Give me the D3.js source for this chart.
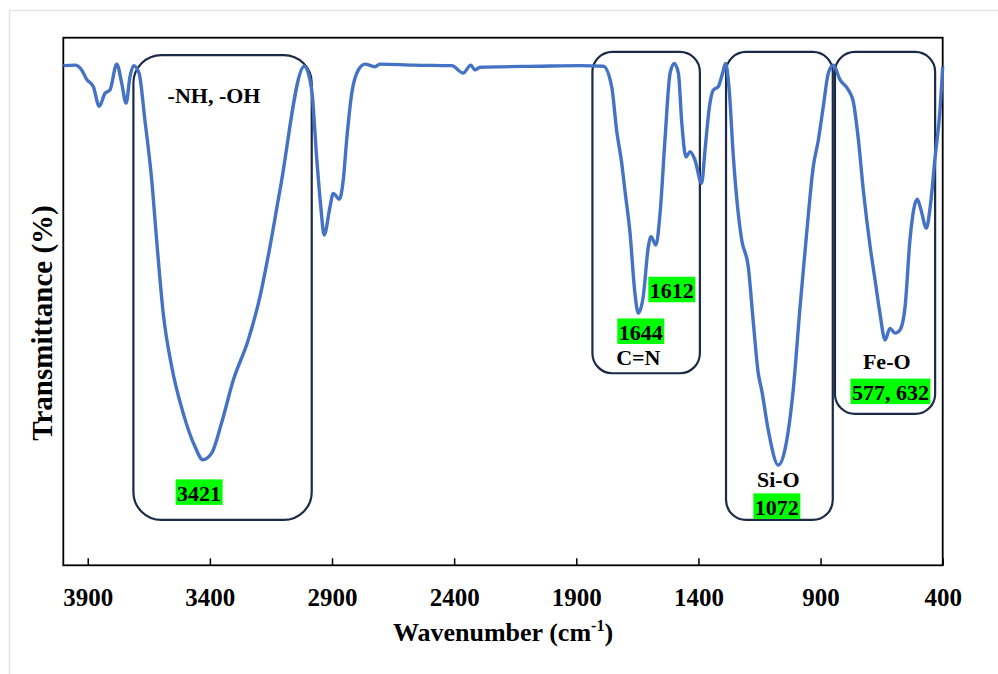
<!DOCTYPE html>
<html>
<head>
<meta charset="utf-8">
<script src="https://cdn.jsdelivr.net/npm/d3@7"></script>
<style>
body { margin: 0; background: #fff; }
text { font-family: "Liberation Serif", "Times New Roman", serif; font-weight: bold; fill: #000; }
</style>
</head>
<body>
<div id="chart-area"></div>
<script>
// widmo FTIR
const wavenumber = [4000, 3952, 3925, 3904, 3877, 3853, 3829, 3809, 3781, 3761, 3743, 3727, 3712, 3690, 3666,
  3638, 3618, 3591, 3556, 3509, 3461, 3429, 3392, 3352, 3304, 3243, 3195, 3154, 3113, 3013,
  2983, 2963, 2946, 2932, 2908, 2895, 2870, 2854, 2840, 2819, 2792, 2765, 2724, 2704, 2567,
  2410, 2363, 2332, 2315, 2294, 2049, 1885, 1789, 1755, 1735, 1714, 1701, 1680, 1660, 1646,
  1626, 1605, 1594, 1574, 1557, 1537, 1516, 1499, 1482, 1468, 1451, 1434, 1414, 1387, 1373,
  1355, 1339, 1319, 1301, 1289, 1274, 1257, 1237, 1223, 1196, 1175, 1155, 1141, 1114, 1073,
  1046, 1012, 984, 957, 930, 909, 889, 868, 848, 820, 786, 766, 745, 725, 697,
  677, 657, 636, 616, 595, 575, 554, 534, 504, 489, 467, 451, 431, 410, 400];
const transmittance = [94.7, 94.8, 93.9, 92.1, 90.7, 87.0, 89.5, 90.1, 95.0, 91.4, 87.6, 92.6, 94.7, 93.3, 84.4,
  73.0, 61.7, 47.8, 37.6, 28.8, 22.5, 20.0, 21.3, 27.0, 35.1, 42.7, 50.9, 60.4, 71.1, 94.6,
  90.1, 77.4, 68.0, 62.6, 68.0, 70.5, 69.4, 73.0, 80.6, 89.5, 93.9, 95.0, 94.5, 95.0, 94.8,
  94.7, 93.3, 94.8, 93.9, 94.4, 94.6, 94.7, 94.6, 90.7, 82.5, 76.2, 71.1, 63.0, 51.6, 47.8,
  50.9, 60.4, 62.3, 60.7, 66.7, 80.6, 93.3, 95.1, 93.3, 83.8, 77.4, 78.4, 76.8, 72.4, 78.7,
  86.9, 90.1, 90.7, 93.3, 95.1, 90.1, 77.4, 66.7, 61.7, 56.6, 45.9, 36.4, 33.2, 25.6, 19.0,
  21.9, 33.2, 49.0, 62.9, 75.5, 80.6, 86.9, 93.3, 94.8, 92.0, 90.1, 87.9, 80.6, 71.1, 60.4,
  54.1, 47.8, 42.7, 44.9, 44.0, 44.6, 49.0, 61.7, 69.4, 67.4, 63.9, 68.0, 77.4, 86.9, 94.5];

const xTicks = [3900, 3400, 2900, 2400, 1900, 1400, 900, 400];

// ramki wokol pasm
const boxFrom = [3713, 1834, 1287, 841];
const boxTo = [2983, 1394, 850, 431];
const boxTop = [96.7, 97.3, 97.3, 97.3];
const boxBottom = [8.6, 36.4, 8.6, 28.7];

// podpisy
const labelText = ["-NH, -OH", "3421", "1644", "C=N", "1612", "Si-O", "1072", "Fe-O", "577, 632"];
const labelWn = [3383, 3444, 1636, 1646, 1509, 1073, 1079, 629, 614];
const labelT = [87.6, 12.2, 42.7, 38.0, 50.6, 14.9, 9.55, 37.3, 31.3];
const labelGreen = [false, true, true, false, true, false, true, false, true];

const W = 998, H = 674;
const m = { left: 63.3, top: 37.7, right: 942.7, bottom: 565.3 };

const svg = d3.select("#chart-area").append("svg")
  .attr("width", W)
  .attr("height", H);

// jasna ramka zewnetrzna
svg.append("rect")
  .attr("x", 9.5).attr("y", 10.5)
  .attr("width", 1000).attr("height", 700)
  .attr("fill", "none")
  .attr("stroke", "#e4e4e4")
  .attr("stroke-width", 1.5);

const x = d3.scaleLinear().domain([4000, 400]).range([m.left, m.right]);
const y = d3.scaleLinear().domain([0, 100]).range([m.bottom, m.top]);

// os X, kreski do srodka
const xAxis = d3.axisBottom(x)
  .tickValues(xTicks)
  .tickFormat(d3.format("d"))
  .tickSizeInner(-7)
  .tickSizeOuter(0)
  .tickPadding(23);

const gx = svg.append("g")
  .attr("transform", `translate(0,${m.bottom})`)
  .call(xAxis);
gx.select(".domain").remove();
gx.selectAll(".tick line").attr("stroke", "#000").attr("stroke-width", 1.5);
gx.selectAll(".tick text")
  .attr("font-size", 25)
  .style("font-family", '"Liberation Serif", "Times New Roman", serif')
  .style("font-weight", "bold");

// ramka wykresu
svg.append("rect")
  .attr("x", m.left).attr("y", m.top)
  .attr("width", m.right - m.left)
  .attr("height", m.bottom - m.top)
  .attr("fill", "none")
  .attr("stroke", "#000")
  .attr("stroke-width", 1.8);

// ramki pasm
const boxes = d3.range(boxFrom.length);
svg.selectAll("rect.band")
  .data(boxes)
  .enter()
  .append("rect")
  .attr("class", "band")
  .attr("x", i => x(boxFrom[i]))
  .attr("y", i => y(boxTop[i]))
  .attr("width", i => x(boxTo[i]) - x(boxFrom[i]))
  .attr("height", i => y(boxBottom[i]) - y(boxTop[i]))
  .attr("rx", i => i === 0 ? 28 : 20)
  .attr("fill", "none")
  .attr("stroke", "#1b2a47")
  .attr("stroke-width", 2.2);

// widmo
const pts = wavenumber.map((w, i) => [w, transmittance[i]]);
const line = d3.line()
  .x(d => x(d[0]))
  .y(d => y(d[1]))
  .curve(d3.curveMonotoneX);

svg.append("path")
  .datum(pts)
  .attr("d", line)
  .attr("fill", "none")
  .attr("stroke", "#4472c4")
  .attr("stroke-width", 3.4)
  .attr("stroke-linejoin", "round");

// podpisy z zielonym tlem
const fs = 22;
labelText.forEach((t, i) => {
  const g = svg.append("g");
  const txt = g.append("text")
    .attr("x", x(labelWn[i]))
    .attr("y", y(labelT[i]))
    .attr("text-anchor", "middle")
    .attr("font-size", fs)
    .text(t);
  if (labelGreen[i]) {
    const w = txt.node().getComputedTextLength() + 3;
    g.insert("rect", "text")
      .attr("x", x(labelWn[i]) - w / 2)
      .attr("y", y(labelT[i]) - 0.98 * fs)
      .attr("width", w)
      .attr("height", 1.16 * fs)
      .attr("fill", "#00ff00");
  }
});

// tytuly osi
const xt = svg.append("text")
  .attr("x", 503)
  .attr("y", 641)
  .attr("text-anchor", "middle")
  .attr("font-size", 26);
xt.append("tspan").text("Wavenumber (cm");
xt.append("tspan").attr("font-size", 16).attr("dy", -10).text("-1");
xt.append("tspan").attr("dy", 10).text(")");

svg.append("text")
  .attr("transform", "translate(42,323) rotate(-90)")
  .attr("text-anchor", "middle")
  .attr("dominant-baseline", "central")
  .attr("font-size", 29)
  .text("Transmittance (%)");
</script>
</body>
</html>
